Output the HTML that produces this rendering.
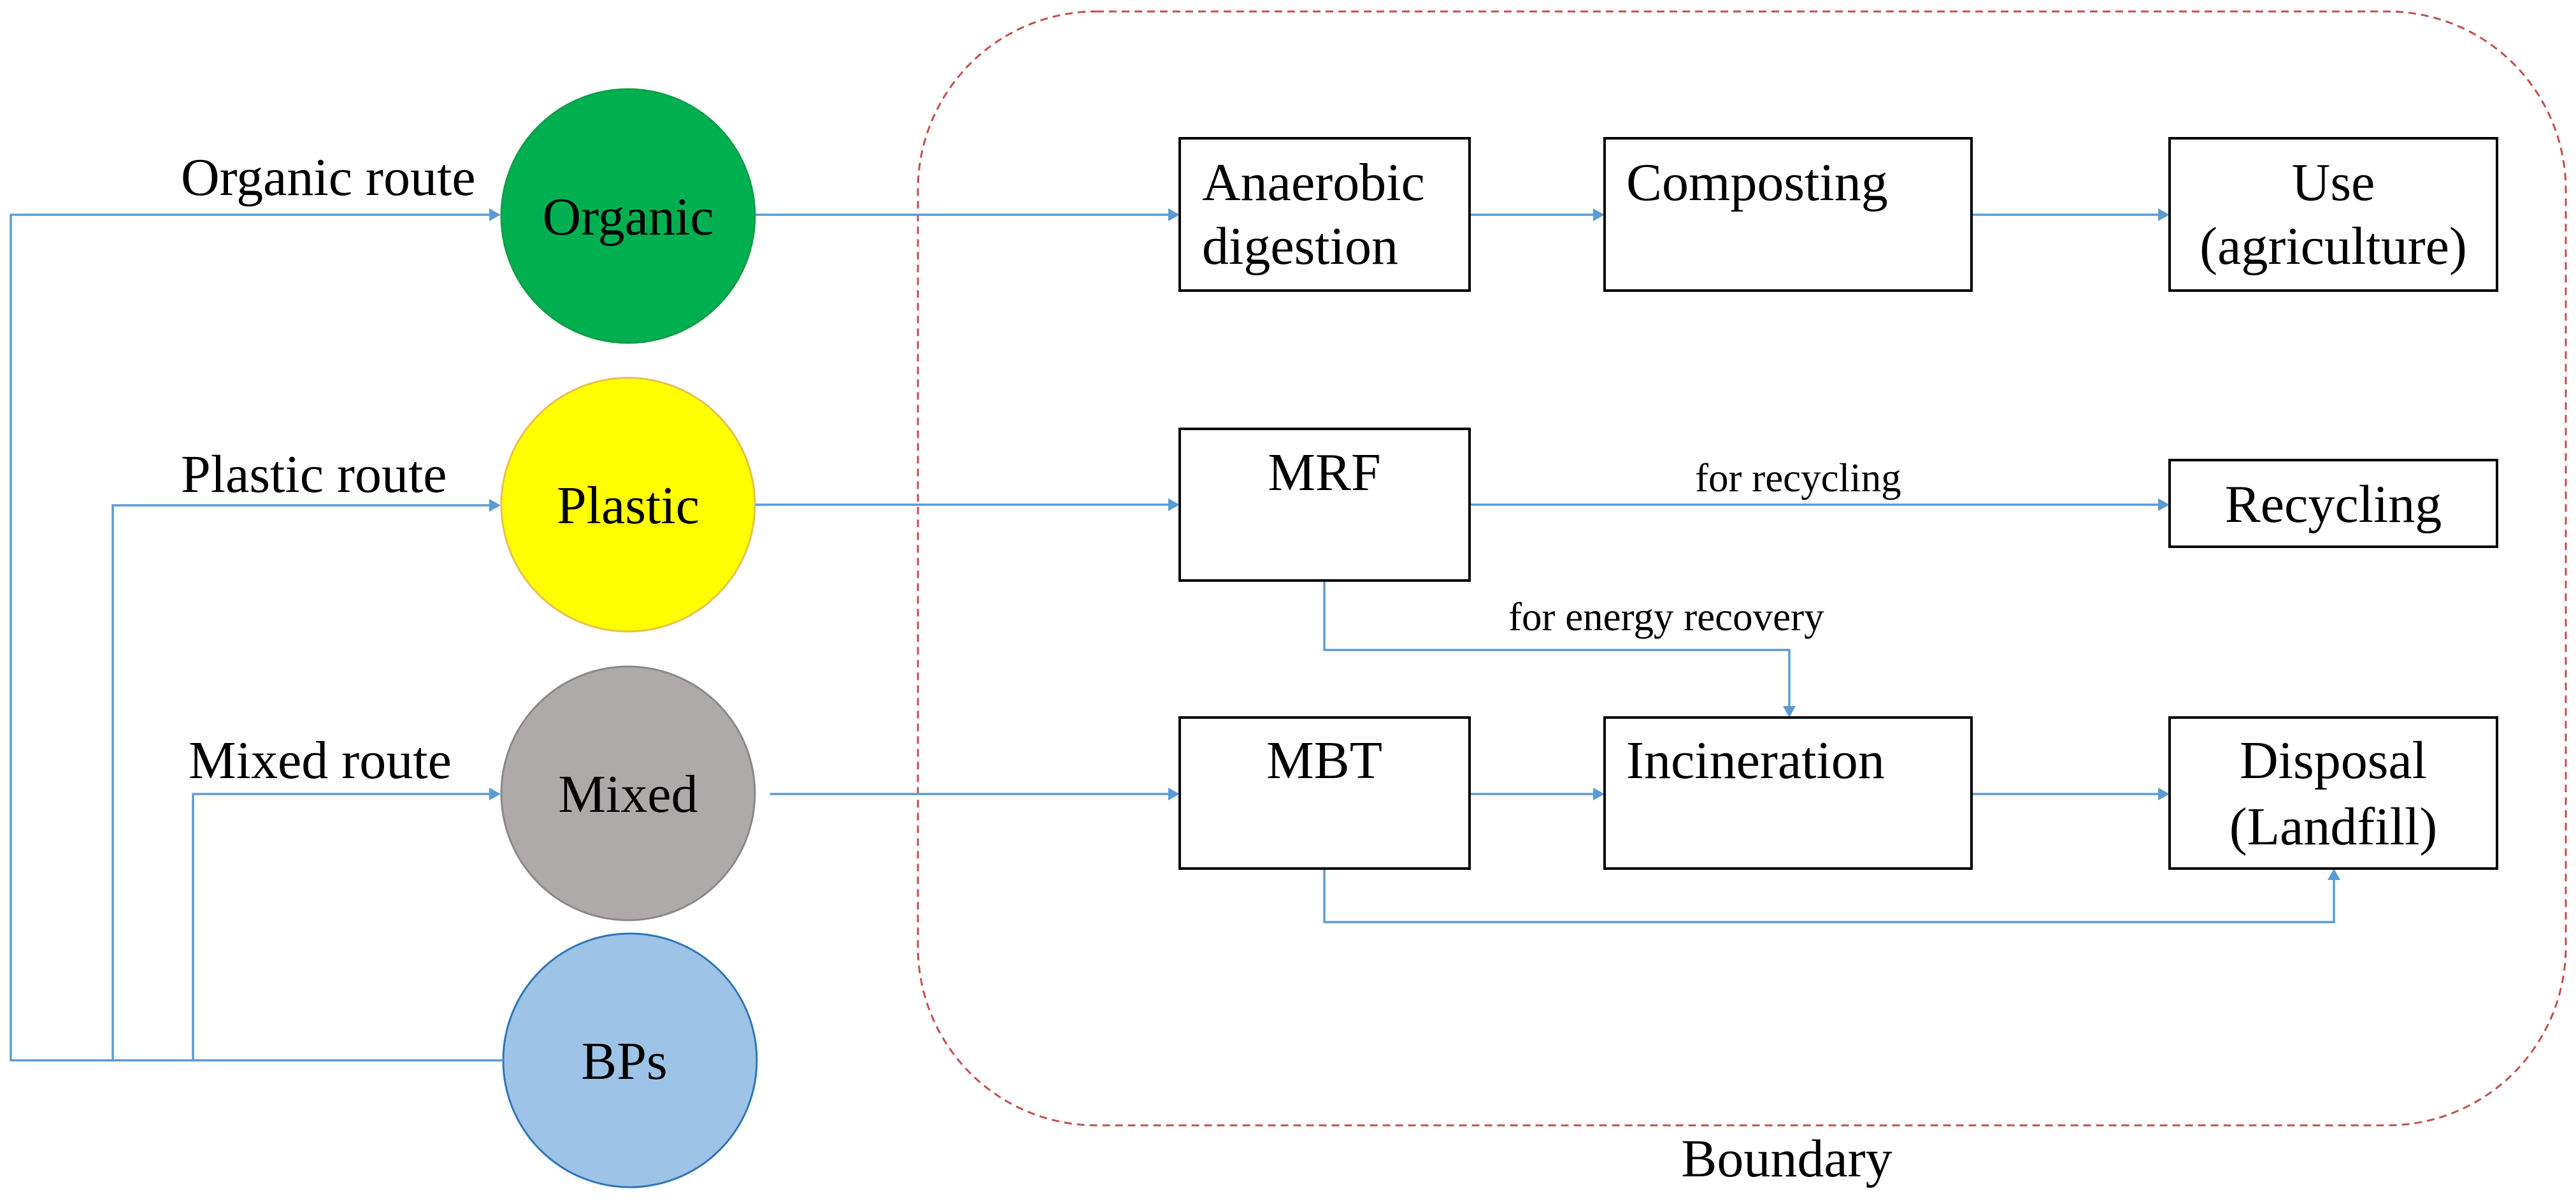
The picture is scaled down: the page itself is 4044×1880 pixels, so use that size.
<!DOCTYPE html>
<html><head><meta charset="utf-8"><style>html,body{margin:0;padding:0;background:#fff}svg{display:block}</style></head>
<body>
<svg width="4044" height="1880" viewBox="0 0 4044 1880" xmlns="http://www.w3.org/2000/svg" font-family="'Liberation Serif', serif">
<defs>
<marker id="a" markerWidth="10" markerHeight="10" refX="9" refY="5" orient="auto" markerUnits="userSpaceOnUse" viewBox="0 0 10 10">
</marker>
</defs>
<rect x="1441" y="18" width="2587" height="1748" rx="280" ry="280" fill="none" stroke="#c0504d" stroke-width="3" stroke-dasharray="12,8"/>
<text x="2805" y="1846" font-size="84" text-anchor="middle">Boundary</text>

<!-- circles -->
<circle cx="986" cy="339" r="199" fill="#00b050" stroke="#0f9e48" stroke-width="3"/>
<circle cx="986" cy="792" r="199" fill="#ffff00" stroke="#e8c04a" stroke-width="3"/>
<circle cx="986" cy="1245" r="199" fill="#aeaaaa" stroke="#8a8888" stroke-width="3"/>
<circle cx="989" cy="1664" r="199" fill="#9dc3e6" stroke="#2e75b6" stroke-width="3"/>
<g font-size="84" text-anchor="middle">
<text x="986" y="368">Organic</text>
<text x="986" y="821">Plastic</text>
<text x="986" y="1274">Mixed</text>
<text x="980" y="1693">BPs</text>
</g>
<g font-size="84">
<text x="284" y="306">Organic route</text>
<text x="284" y="772">Plastic route</text>
<text x="296" y="1221">Mixed route</text>
</g>

<!-- lines -->
<g stroke="#5b9bd5" stroke-width="3.5" fill="none">
<path d="M790 1664 H17 V337 H770"/>
<path d="M177 1664 V793 H770"/>
<path d="M303 1664 V1246 H770"/>
<path d="M1186 337 H1836"/>
<path d="M2307 337 H2503"/>
<path d="M3095 337 H3390"/>
<path d="M1186 792 H1836"/>
<path d="M2307 792 H3390"/>
<path d="M2079 911 V1020 H2809 V1110"/>
<path d="M1209 1246 H1836"/>
<path d="M2307 1246 H2503"/>
<path d="M3095 1246 H3390"/>
<path d="M2079 1363 V1447 H3664 V1380"/>
</g>
<g fill="#5b9bd5">
<polygon points="786,337 768,327 768,347"/>
<polygon points="786,793 768,783 768,803"/>
<polygon points="786,1246 768,1236 768,1256"/>
<polygon points="1852,337 1834,327 1834,347"/>
<polygon points="2519,337 2501,327 2501,347"/>
<polygon points="3406,337 3388,327 3388,347"/>
<polygon points="1852,792 1834,782 1834,802"/>
<polygon points="3406,792 3388,782 3388,802"/>
<polygon points="2809,1126 2799,1108 2819,1108"/>
<polygon points="1852,1246 1834,1236 1834,1256"/>
<polygon points="2519,1246 2501,1236 2501,1256"/>
<polygon points="3406,1246 3388,1236 3388,1256"/>
<polygon points="3664,1363 3654,1381 3674,1381"/>
</g>

<!-- boxes -->
<g fill="#fff" stroke="#000" stroke-width="4">
<rect x="1852" y="217" width="455" height="239"/>
<rect x="2519" y="217" width="576" height="239"/>
<rect x="3406" y="217" width="514" height="239"/>
<rect x="1852" y="673" width="455" height="238"/>
<rect x="3406" y="722" width="514" height="136"/>
<rect x="1852" y="1126" width="455" height="237"/>
<rect x="2519" y="1126" width="576" height="237"/>
<rect x="3406" y="1126" width="514" height="237"/>
</g>
<g font-size="84">
<text x="1887" y="314">Anaerobic</text>
<text x="1887" y="414">digestion</text>
<text x="2553" y="314">Composting</text>
<text x="3663" y="314" text-anchor="middle">Use</text>
<text x="3663" y="414" text-anchor="middle">(agriculture)</text>
<text x="2079" y="769" text-anchor="middle">MRF</text>
<text x="3663" y="819" text-anchor="middle">Recycling</text>
<text x="2079" y="1221" text-anchor="middle">MBT</text>
<text x="2553" y="1221">Incineration</text>
<text x="3663" y="1221" text-anchor="middle">Disposal</text>
<text x="3663" y="1325" text-anchor="middle">(Landfill)</text>
</g>
<g font-size="63">
<text x="2661" y="771">for recycling</text>
<text x="2368" y="989">for energy recovery</text>
</g>
</svg>
</body></html>
